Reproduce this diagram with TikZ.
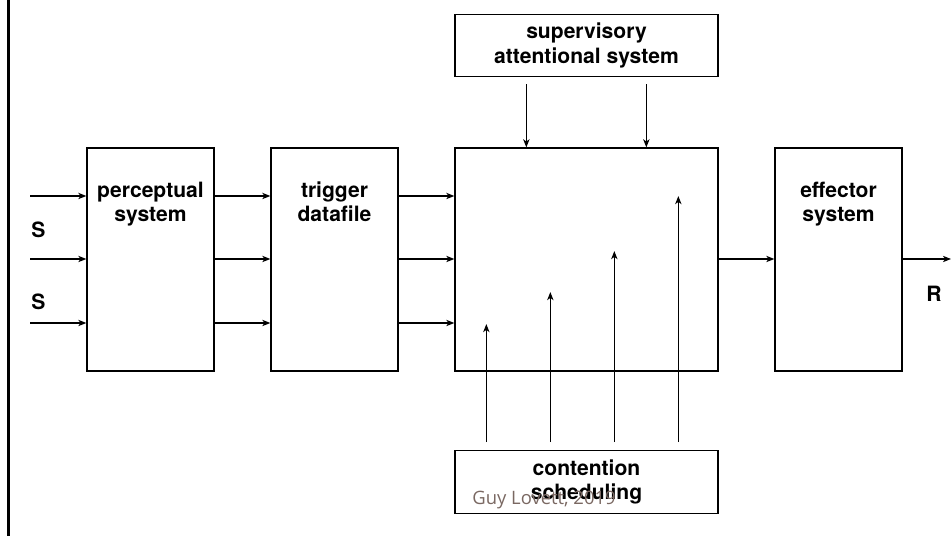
\documentclass[tikz,border=0pt]{standalone}
\usepackage{fontspec}
\setmainfont{TeX Gyre Heros}
\newfontfamily\wmfont{Open Sans}
\usetikzlibrary{arrows.meta,calc}
\definecolor{wmark}{RGB}{122,104,98}

\tikzset{
  blk/.style={draw,line width=0.75pt,minimum width=2.54cm,minimum height=4.46cm,inner sep=0pt},
  wideblk/.style={draw,line width=0.75pt,minimum width=5.26cm,minimum height=1.25cm,inner sep=0pt,
    align=center,font=\fontsize{12}{13.8}\selectfont\bfseries},
  blktext/.style={anchor=north,align=center,inner sep=0pt,font=\fontsize{12}{13.8}\selectfont\bfseries},
  sig/.style={font=\fontsize{12}{14}\selectfont\bfseries,inner sep=0pt},
  flow/.style={line width=0.65pt,-{Stealth[length=4.6pt,width=3.6pt,inset=1.3pt]}}
}

\begin{document}
\begin{tikzpicture}[line cap=butt,line join=miter]
  \useasboundingbox (0,0) rectangle (19.02,10.72);
  % 左边竖线
  \draw[line width=1.4pt] (0.17,0) -- (0.17,10.72);
  % 四个主框
  \node[blk] (percep) at (3.01,5.53) {};
  \node[blk] (trig) at (6.69,5.53) {};
  \node[blk,minimum width=5.26cm] (central) at (11.73,5.53) {};
  \node[blk] (effect) at (16.77,5.53) {};
  \node[blktext] (percepT) at ($(percep.north)+(0,-0.66)$) {\strut perceptual\\system};
  \node[blktext] (trigT) at ($(trig.north)+(0,-0.66)$) {\strut trigger\\datafile};
  \node[blktext] (effectT) at ($(effect.north)+(0,-0.66)$) {\strut effector\\system};
  % 上下两框
  \node[wideblk] (sas) at (11.73,9.81) {supervisory\\attentional system};
  \node[wideblk] (sched) at (11.73,1.08) {contention\\scheduling};
  % 三行信号
  \coordinate (rowA) at (0.60,6.80);
  \coordinate (rowB) at (0.60,5.54);
  \coordinate (rowC) at (0.60,4.26);
  \foreach \r in {rowA,rowB,rowC} {
    \draw[flow] (\r) -- (percep.west |- \r);
    \draw[flow] (percep.east |- \r) -- (trig.west |- \r);
    \draw[flow] (trig.east |- \r) -- (central.west |- \r);
  }
  \coordinate (outR) at (19.02,5.54);
  \draw[flow] (central.east |- rowB) -- (effect.west |- rowB);
  \draw[flow] (effect.east |- rowB) -- (outR);
  \node[sig] (s1) at (0.77,6.12) {S};
  \node[sig] (s2) at (0.77,4.68) {S};
  \node[sig] (r1) at (18.68,4.84) {R};
  % 监督系统向下的箭头
  \foreach \dx in {1.44,3.84} {
    \draw[flow] ($(sas.south west)+(\dx,-0.14)$) -- ($(central.north west)+(\dx,0)$);
  }
  % 竞争调度向上的箭头
  \foreach \dx/\top in {0.64/4.22,1.92/4.86,3.20/5.68,4.48/6.78} {
    \draw[flow] ($(sched.north west)+(\dx,0.16)$) -- ($(sched.north west)+(\dx,0)+(0,\top-1.70)$);
  }
  % 水印
  \node[anchor=base west,inner sep=0pt,text=wmark,font=\wmfont\fontsize{10.5}{12}\selectfont] (wm) at (9.44,0.62) {Guy Lovett, 2019};
\end{tikzpicture}
\end{document}
